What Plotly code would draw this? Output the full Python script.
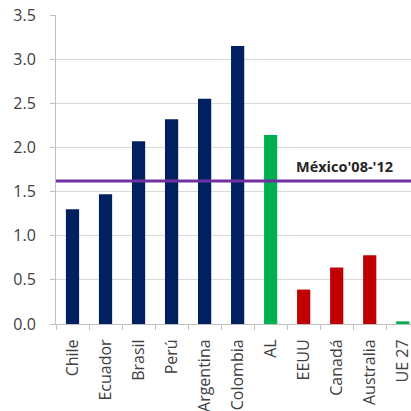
import plotly.graph_objects as go

categories = ["Chile", "Ecuador", "Brasil", "Perú", "Argentina", "Colombia", "AL", "EEUU", "Canadá", "Australia", "UE 27"]
values = [1.30, 1.47, 2.07, 2.32, 2.55, 3.15, 2.14, 0.39, 0.64, 0.78, 0.03]
groups = ["navy"] * 6 + ["green"] + ["red"] * 3 + ["green"]
group_colors = {"navy": "#002060", "green": "#00B050", "red": "#C00000"}
mexico_value = 1.62
mexico_label = "México'08-'12"
y_ticks = [0.0, 0.5, 1.0, 1.5, 2.0, 2.5, 3.0, 3.5]

font_family = "Open Sans"

fig = go.Figure()
fig.add_trace(go.Bar(
    x=categories, y=values,
    marker=dict(color=[group_colors[g] for g in groups], line=dict(width=0)),
    width=0.4,
))
fig.add_shape(type="line", xref="paper", yref="y", x0=0, x1=1,
              y0=mexico_value, y1=mexico_value,
              line=dict(color="#7030A0", width=3))
fig.add_annotation(x=8.25, y=mexico_value, xref="x", yref="y", text="<b>" + mexico_label + "</b>",
                   showarrow=False, yshift=14, font=dict(size=14.5, color="#262626", family=font_family))

fig.update_layout(
    width=411, height=411,
    margin=dict(l=56, r=0, t=15, b=87, autoexpand=False),
    paper_bgcolor="white", plot_bgcolor="white",
    showlegend=False,
    bargap=0.6,
    font=dict(family=font_family, size=15, color="#404040"),
)
fig.update_xaxes(
    type="category",
    range=[-0.5, 10.25],
    tickangle=-90,
    showline=True, linecolor="#bfbfbf", linewidth=1,
    ticks="outside", tickson="boundaries", ticklen=5, tickcolor="#bfbfbf",
    showgrid=False,
    ticklabelstandoff=8,
    automargin=False,
    tickfont=dict(size=16, color="#404040", family=font_family),
)
fig.update_yaxes(
    range=[0, 3.5],
    tickvals=y_ticks,
    ticktext=[f"{v:.1f}" for v in y_ticks],
    showline=True, linecolor="#bfbfbf", linewidth=1,
    ticks="outside", ticklen=5, tickcolor="#bfbfbf",
    showgrid=True, gridcolor="#d9d9d9", gridwidth=1,
    zeroline=False,
    automargin=False,
    ticklabelstandoff=11,
    tickfont=dict(size=16, color="#404040", family=font_family),
)

fig.write_html("out.html")
